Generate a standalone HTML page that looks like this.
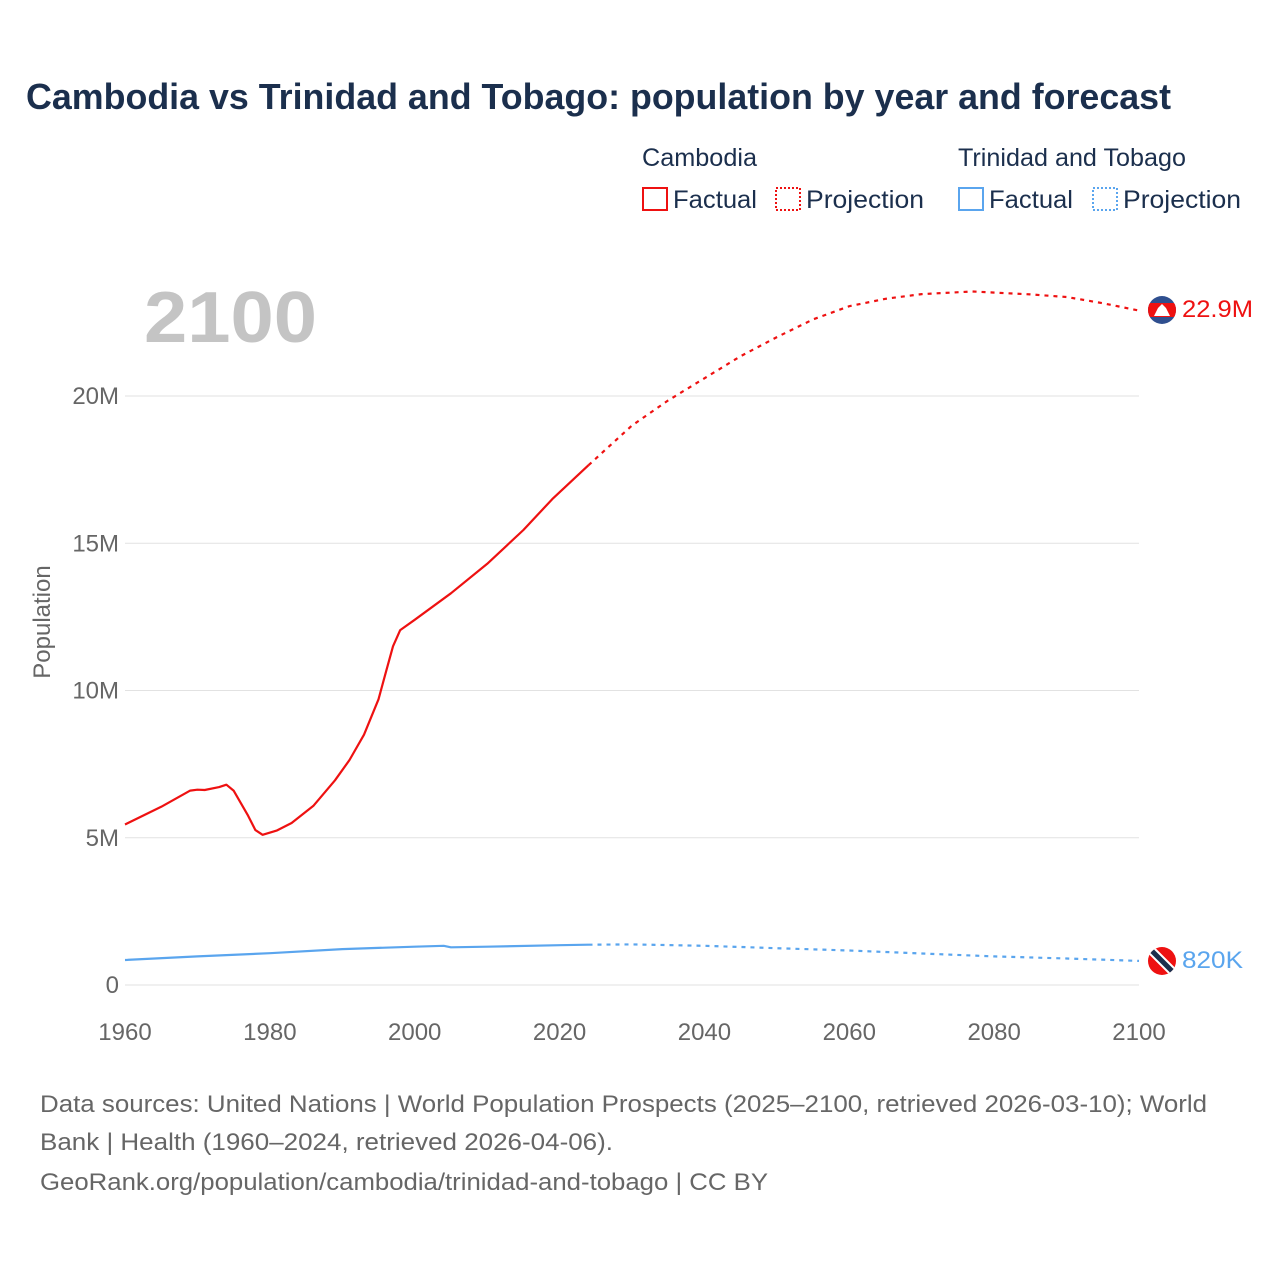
<!DOCTYPE html>
<html><head><meta charset="utf-8"><style>
body{margin:0;background:#fff;font-family:"Liberation Sans",sans-serif;}
svg{display:block}
</style></head><body>
<svg id="chart" width="1280" height="1280">
<defs>
<clipPath id="c1"><circle cx="1162" cy="310" r="14"/></clipPath>
<clipPath id="c2"><circle cx="1162" cy="961" r="14"/></clipPath>
</defs>
<text x="26" y="109" font-size="36" font-weight="bold" fill="#1b2f4d" textLength="1145" lengthAdjust="spacingAndGlyphs">Cambodia vs Trinidad and Tobago: population by year and forecast</text>
<g font-size="25" fill="#1b2f4d">
<text x="642" y="166" textLength="115" lengthAdjust="spacingAndGlyphs">Cambodia</text>
<text x="958" y="166" textLength="228" lengthAdjust="spacingAndGlyphs">Trinidad and Tobago</text>
<g><rect x="643" y="188" width="24" height="22" fill="none" stroke="#ee1111" stroke-width="2"/><text x="673" y="208" textLength="84" lengthAdjust="spacingAndGlyphs">Factual</text></g>
<g><rect x="776" y="188" width="24" height="22" fill="none" stroke="#ee1111" stroke-width="2" stroke-dasharray="2 2"/><text x="806" y="208" textLength="118" lengthAdjust="spacingAndGlyphs">Projection</text></g>
<g><rect x="959" y="188" width="24" height="22" fill="none" stroke="#5aa5ee" stroke-width="2"/><text x="989" y="208" textLength="84" lengthAdjust="spacingAndGlyphs">Factual</text></g>
<g><rect x="1093" y="188" width="24" height="22" fill="none" stroke="#5aa5ee" stroke-width="2" stroke-dasharray="2 2"/><text x="1123" y="208" textLength="118" lengthAdjust="spacingAndGlyphs">Projection</text></g>
</g>
<text x="144" y="342" font-size="72" font-weight="bold" fill="#c4c4c4" textLength="173" lengthAdjust="spacingAndGlyphs">2100</text>
<g id="grid"></g>
<g id="marks"></g>
<text transform="translate(50,622) rotate(-90)" text-anchor="middle" font-size="24" fill="#666">Population</text>
<g clip-path="url(#c1)"><rect x="1148" y="296" width="28" height="28" fill="#2f4f8f"/><rect x="1148" y="303" width="28" height="14" fill="#ee1111"/><path d="M1154 316 L1158 308 L1162 304 L1166 308 L1170 316Z" fill="#fff"/></g>
<g clip-path="url(#c2)"><rect x="1148" y="947" width="28" height="28" fill="#ee1111"/><line x1="1150" y1="949" x2="1176" y2="975" stroke="#fff" stroke-width="9"/><line x1="1150" y1="949" x2="1176" y2="975" stroke="#1b2f4d" stroke-width="5"/></g>
<text x="1182" y="317" font-size="24" fill="#ee1111" textLength="71" lengthAdjust="spacingAndGlyphs">22.9M</text>
<text x="1182" y="968" font-size="24" fill="#5aa5ee" textLength="61" lengthAdjust="spacingAndGlyphs">820K</text>
<g font-size="24" fill="#666">
<text x="40" y="1112" textLength="1167" lengthAdjust="spacingAndGlyphs">Data sources: United Nations | World Population Prospects (2025–2100, retrieved 2026-03-10); World</text>
<text x="40" y="1150" textLength="573" lengthAdjust="spacingAndGlyphs">Bank | Health (1960–2024, retrieved 2026-04-06).</text>
<text x="40" y="1190" textLength="728" lengthAdjust="spacingAndGlyphs">GeoRank.org/population/cambodia/trinidad-and-tobago | CC BY</text>
</g>
</svg>
<script>
const camFactYears=[1960,1965,1969,1970,1971,1973,1974,1975,1977,1978,1979,1981,1983,1986,1989,1991,1993,1995,1996,1997,1998,2000,2005,2010,2015,2019,2024];
const camFactVals=[5.45,6.05,6.6,6.63,6.62,6.72,6.8,6.6,5.75,5.26,5.1,5.25,5.5,6.08,6.95,7.64,8.5,9.7,10.6,11.5,12.05,12.4,13.3,14.3,15.45,16.5,17.65];
const camProjYears=[2024,2030,2035,2040,2045,2050,2055,2060,2065,2070,2077,2085,2090,2095,2100];
const camProjVals=[17.65,19.0,19.85,20.6,21.35,22.0,22.6,23.05,23.3,23.46,23.55,23.45,23.36,23.15,22.9];
const ttFactYears=[1960,1970,1980,1990,2000,2004,2005,2010,2020,2024];
const ttFactVals=[0.85,0.97,1.08,1.22,1.3,1.33,1.28,1.3,1.35,1.37];
const ttProjYears=[2024,2030,2040,2050,2060,2070,2080,2090,2100];
const ttProjVals=[1.37,1.38,1.33,1.25,1.17,1.07,0.97,0.9,0.82];
const yTicks=[0,5,10,15,20];
const yTickLabels=["0","5M","10M","15M","20M"];
const xTicks=[1960,1980,2000,2020,2040,2060,2080,2100];
const NS="http://www.w3.org/2000/svg";
const xs=y=>125+(y-1960)*(1139-125)/140;
const ys=v=>985-v*29.45;
const grid=document.getElementById('grid'),marks=document.getElementById('marks');
function mk(t,a,p){const e=document.createElementNS(NS,t);for(const k in a)e.setAttribute(k,a[k]);p.appendChild(e);return e;}
yTicks.forEach((v,i)=>{
  const l=mk('line',{x1:125,x2:1139,y1:ys(v),y2:ys(v),stroke:'#e2e2e2','stroke-width':1},grid);
  
  
  const t=mk('text',{x:119,y:ys(v)+8,'text-anchor':'end','font-size':24,fill:'#666'},grid);
  t.textContent=yTickLabels[i];
  
  
});
xTicks.forEach(y=>{
  const t=mk('text',{x:xs(y),y:1040,'text-anchor':'middle','font-size':24,fill:'#666'},grid);
  t.textContent=y;
  
  
});
function line(yrs,vals,col,dash,name){
  const d=yrs.map((y,i)=>(i?'L':'M')+xs(y).toFixed(1)+' '+ys(vals[i]).toFixed(1)).join(' ');
  const p=mk('path',{d:d,fill:'none',stroke:col,'stroke-width':2.2,'stroke-linejoin':'round'},marks);
  if(dash)p.setAttribute('stroke-dasharray','4 5');
  
  
}
line(camFactYears,camFactVals,'#ee1111',false,'cambodia-factual-line');
line(camProjYears,camProjVals,'#ee1111',true,'cambodia-projection-line');
line(ttFactYears,ttFactVals,'#5aa5ee',false,'tt-factual-line');
line(ttProjYears,ttProjVals,'#5aa5ee',true,'tt-projection-line');
</script>
</body></html>
